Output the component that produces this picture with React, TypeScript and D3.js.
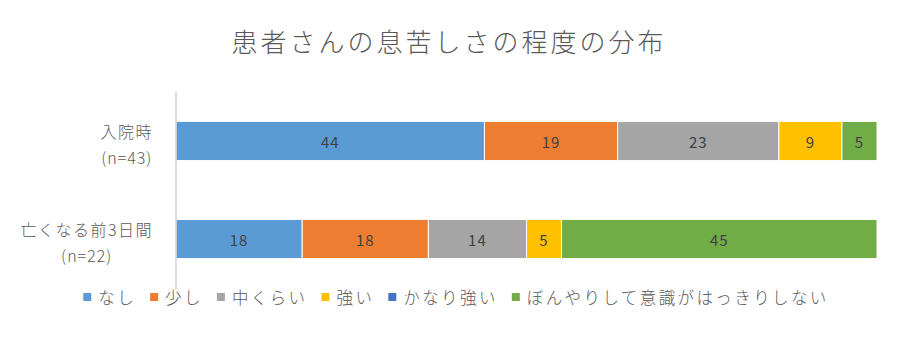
import { useEffect, useRef } from 'react';
import * as d3 from 'd3';

const categories = ['入院時', '亡くなる前3日間'];
const sampleSizes = ['(n=43)', '(n=22)'];
const seriesNames = ['なし', '少し', '中くらい', '強い', 'かなり強い', 'ぼんやりして意識がはっきりしない'];
const seriesColors = ['#5b9bd5', '#ed7d31', '#a5a5a5', '#ffc000', '#4472c4', '#70ad47'];
const admissionValues = [44, 19, 23, 9, 0, 5];
const lastDaysValues = [18, 18, 14, 5, 0, 45];

const FONT = '"Noto Sans CJK JP", "Noto Sans", sans-serif';

export default function App() {
  const svgRef = useRef<SVGSVGElement>(null);

  useEffect(() => {
    if (!svgRef.current) return;
    const svg = d3.select(svgRef.current);
    svg.selectAll('*').remove();

    const width = 900;
    const height = 360;
    const left = 176;
    const right = 877;

    svg.append('rect').attr('width', width).attr('height', height).attr('fill', '#fff');

    // Title
    svg.append('text')
      .attr('x', 449)
      .attr('y', 52)
      .attr('text-anchor', 'middle')
      .attr('fill', '#595959')
      .attr('font-family', FONT)
      .attr('font-weight', 300)
      .attr('font-size', '26px')
      .attr('letter-spacing', '3px')
      .text('患者さんの息苦しさの程度の分布');

    const xScale = d3.scaleLinear().domain([0, 100]).range([left, right]);
    const yScale = d3.scaleBand<string>()
      .domain(categories)
      .range([92, 288])
      .paddingInner(0.6)
      .paddingOuter(0.3);

    const rows = [admissionValues, lastDaysValues];

    rows.forEach((values, ci) => {
      const cat = categories[ci];
      const y0 = yScale(cat) ?? 0;
      const bh = yScale.bandwidth();
      let acc = 0;
      values.forEach((v, si) => {
        const x0 = xScale(acc);
        const x1 = xScale(acc + v);
        acc += v;
        if (v === 0) return;
        svg.append('rect')
          .attr('x', x0)
          .attr('y', y0)
          .attr('width', x1 - x0)
          .attr('height', bh)
          .attr('fill', seriesColors[si])
          .attr('stroke', '#fff')
          .attr('stroke-width', 1);
        svg.append('text')
          .attr('x', (x0 + x1) / 2)
          .attr('y', y0 + bh / 2)
          .attr('text-anchor', 'middle')
          .attr('dominant-baseline', 'central')
          .attr('fill', '#404040')
          .attr('font-family', FONT)
          .attr('font-size', '15px')
          .attr('letter-spacing', '1px')
          .text(v);
      });

      // category labels: two lines, centered on each other, block right-aligned
      const cy = y0 + bh / 2;
      const label = svg.append('g');
      const l1 = label.append('text')
        .attr('y', cy - 10)
        .attr('dominant-baseline', 'central')
        .attr('text-anchor', 'middle')
        .attr('fill', '#595959')
        .attr('font-family', FONT)
        .attr('font-weight', 300)
        .attr('font-size', '16px')
        .attr('letter-spacing', '1.5px')
        .text(cat);
      const l2 = label.append('text')
        .attr('y', cy + 16)
        .attr('dominant-baseline', 'central')
        .attr('text-anchor', 'middle')
        .attr('fill', '#595959')
        .attr('font-family', FONT)
        .attr('font-weight', 300)
        .attr('font-size', '16px')
        .attr('letter-spacing', '1px')
        .text(sampleSizes[ci]);
      const w = Math.max(
        (l1.node() as SVGTextElement).getComputedTextLength(),
        (l2.node() as SVGTextElement).getComputedTextLength()
      );
      label.attr('transform', `translate(${153 - w / 2},0)`);
    });

    // Category axis line
    svg.append('line')
      .attr('x1', left)
      .attr('x2', left)
      .attr('y1', 92)
      .attr('y2', 290)
      .attr('stroke', '#d0d0d0')
      .attr('stroke-width', 1.5);

    // Legend
    const legend = svg.append('g');
    let lx = 0;
    seriesNames.forEach((name, i) => {
      const item = legend.append('g').attr('transform', `translate(${lx},0)`);
      item.append('rect')
        .attr('x', 0)
        .attr('y', -4)
        .attr('width', 8)
        .attr('height', 8)
        .attr('fill', seriesColors[i]);
      const t = item.append('text')
        .attr('x', 15)
        .attr('y', 0)
        .attr('dominant-baseline', 'central')
        .attr('fill', '#595959')
        .attr('font-family', FONT)
        .attr('font-weight', 300)
        .attr('font-size', '16.5px')
        .attr('letter-spacing', '2.4px')
        .text(name);
      const tw = (t.node() as SVGTextElement).getComputedTextLength();
      lx += 15 + tw + 14;
    });
    const legendWidth = lx - 14;
    legend.attr('transform', `translate(${456 - legendWidth / 2},297)`);
  }, []);

  return (
    <svg ref={svgRef} width={900} height={360} style={{ display: 'block', margin: '-8px' }} />
  );
}
